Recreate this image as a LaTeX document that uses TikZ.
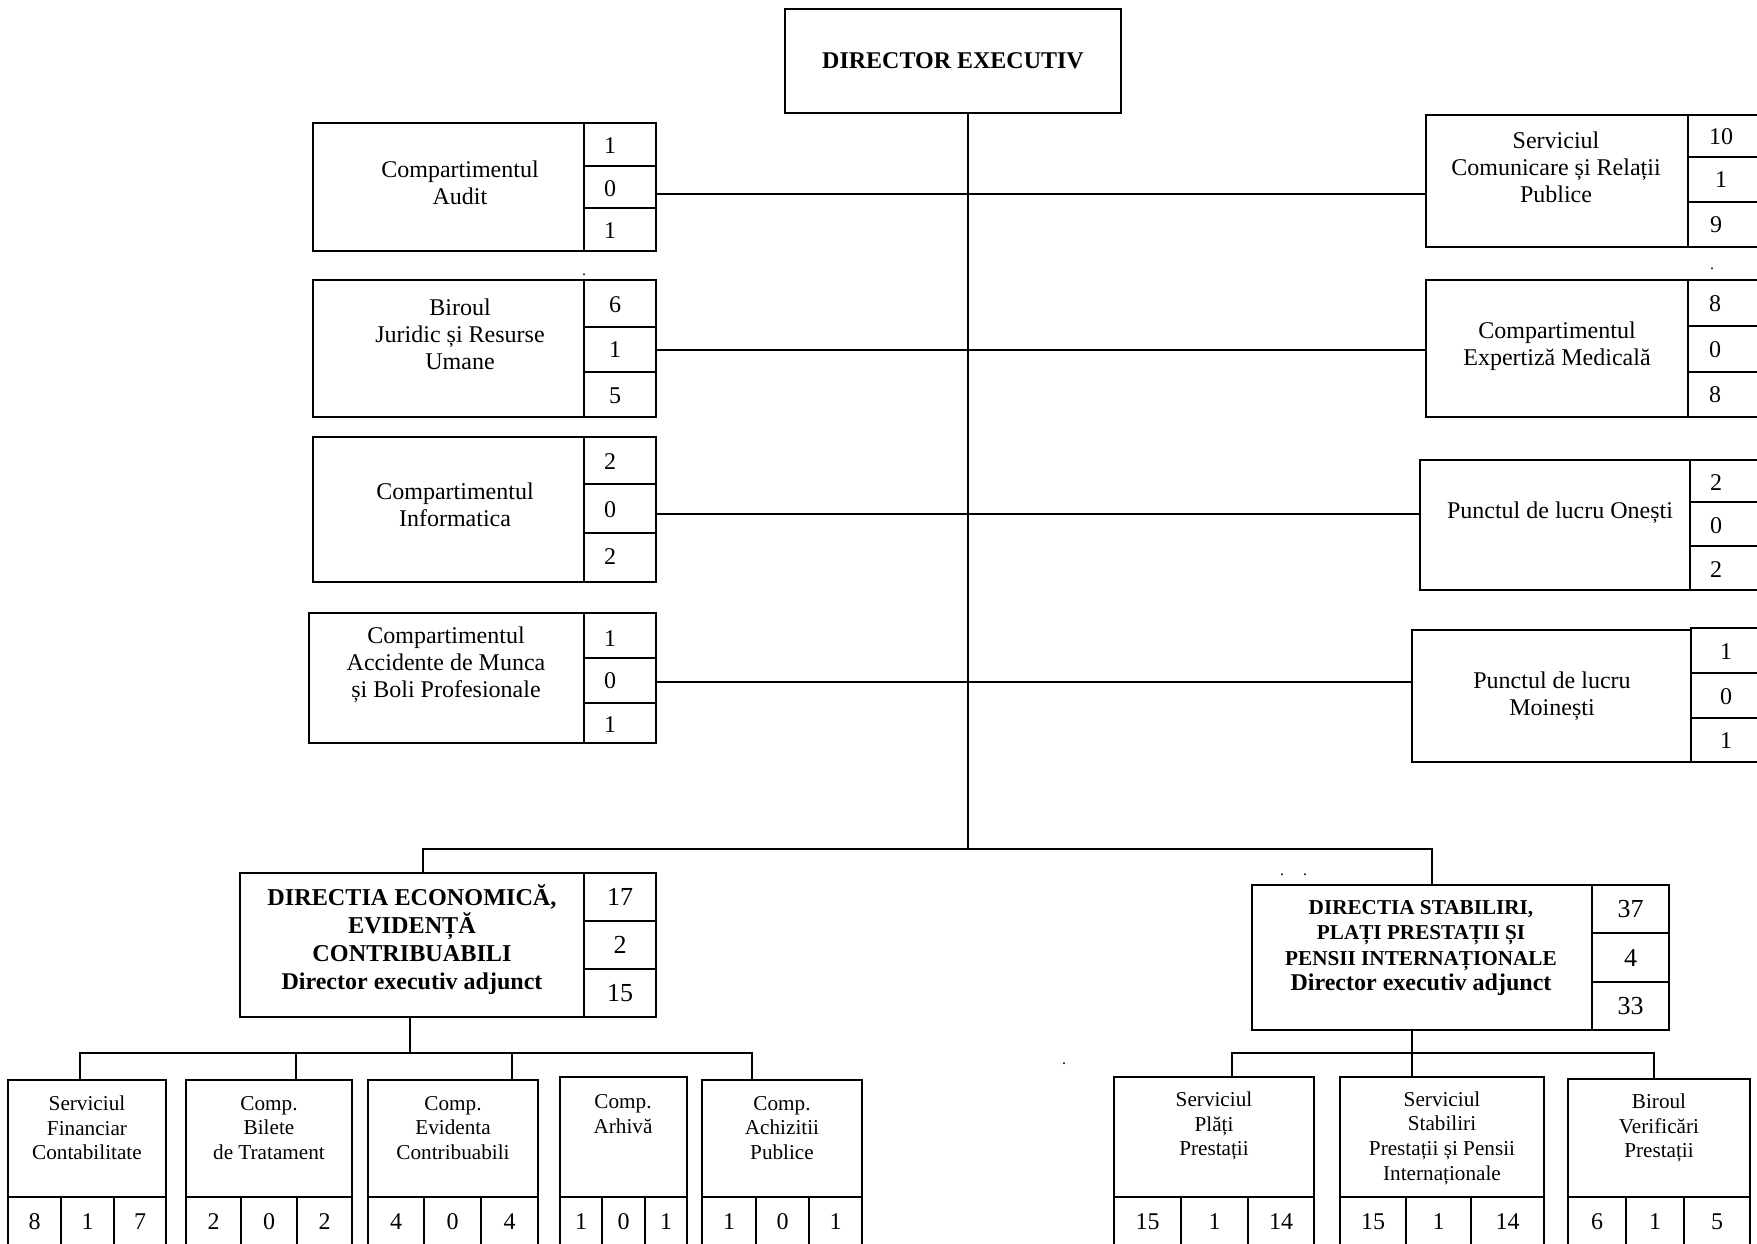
\documentclass[tikz,border=0pt]{standalone}
\usepackage{fontspec}
\setmainfont{Liberation Serif}
\newcommand\rb[5]{\node[boxst, anchor=north west, minimum width={(#4-#2)*0.5pt}, minimum height={(#5-#3)*0.5pt}] (#1) at (#2,#3) {};}
\newcommand\rbt[7]{\node[boxst, anchor=north west, minimum width={(#4-#2)*0.5pt}, minimum height={(#5-#3)*0.5pt}, #7] (#1) at (#2,#3) {#6};}
\begin{document}
\begin{tikzpicture}[x=0.5pt,y=-0.5pt,
  boxst/.style={draw,line width=0.9pt,inner sep=0pt,outer sep=0pt},
  conn/.style={line width=0.9pt},
  lbl/.style={align=center,inner sep=0pt,font=\fontsize{12}{13.5}\selectfont},
  blbl/.style={align=center,inner sep=0pt,font=\fontsize{10.6}{12.3}\selectfont},
  num/.style={inner sep=0pt,font=\fontsize{12}{13.5}\selectfont},
  bnum/.style={font=\fontsize{12}{14}\selectfont},
  dnum/.style={font=\fontsize{13}{15}\selectfont},
  dotst/.style={inner sep=0pt,font=\fontsize{8}{9}\selectfont,anchor=base}]
\useasboundingbox (0,0) rectangle (1757,1243);
\clip (0,0) rectangle (1757,1243);

% Director
\rbt{D}{785}{9}{1121}{113}{DIRECTOR EXECUTIV}{font=\fontsize{12}{13}\selectfont\bfseries}

% Left boxes
\rb{au}{313}{123}{584}{251}
\node[lbl] (aut) at (460,183) {Compartimentul\\Audit};
\rb{au1}{584}{123}{656}{166}
\rb{au2}{584}{166}{656}{208}
\rb{au3}{584}{208}{656}{251}
\node[num] (au1t) at (610,146) {1};
\node[num] (au2t) at (610,189) {0};
\node[num] (au3t) at (610,231) {1};

\rb{ju}{313}{280}{584}{417}
\node[lbl] (jut) at (460,334) {Biroul\\Juridic și Resurse\\Umane};
\rb{ju1}{584}{280}{656}{327}
\rb{ju2}{584}{327}{656}{372}
\rb{ju3}{584}{372}{656}{417}
\node[num] (ju1t) at (615,305) {6};
\node[num] (ju2t) at (615,350) {1};
\node[num] (ju3t) at (615,396) {5};

\rb{inf}{313}{437}{584}{582}
\node[lbl] (inft) at (455,505) {Compartimentul\\Informatica};
\rb{inf1}{584}{437}{656}{484}
\rb{inf2}{584}{484}{656}{533}
\rb{inf3}{584}{533}{656}{582}
\node[num] (inf1t) at (610,462) {2};
\node[num] (inf2t) at (610,510) {0};
\node[num] (inf3t) at (610,557) {2};

\rb{acc}{309}{613}{584}{743}
\node[lbl] (acct) at (446,665) {Compartimentul\\Accidente de Munca\\și Boli Profesionale};
\rb{acc1}{584}{613}{656}{658}
\rb{acc2}{584}{658}{656}{703}
\rb{acc3}{584}{703}{656}{743}
\node[num] (acc1t) at (610,639) {1};
\node[num] (acc2t) at (610,681) {0};
\node[num] (acc3t) at (610,725) {1};

% Right boxes
\rb{com}{1426}{115}{1688}{247}
\node[lbl] (comt) at (1556,167) {Serviciul\\Comunicare și Relații\\Publice};
\rb{com1}{1688}{115}{1775}{157}
\rb{com2}{1688}{157}{1775}{202}
\rb{com3}{1688}{202}{1775}{247}
\node[num] (com1t) at (1721,137) {10};
\node[num] (com2t) at (1721,180) {1};
\node[num] (com3t) at (1716,225) {9};

\rb{exp}{1426}{280}{1688}{417}
\node[lbl] (expt) at (1557,346) {Compartimentul\\Expertiză Medicală};
\rb{exp1}{1688}{280}{1775}{326}
\rb{exp2}{1688}{326}{1775}{372}
\rb{exp3}{1688}{372}{1775}{417}
\node[num] (exp1t) at (1715,304) {8};
\node[num] (exp2t) at (1715,350) {0};
\node[num] (exp3t) at (1715,395) {8};

\rb{one}{1420}{460}{1690}{590}
\node[lbl] (onet) at (1560,513) {Punctul de lucru Onești};
\rb{one1}{1690}{460}{1775}{502}
\rb{one2}{1690}{502}{1775}{546}
\rb{one3}{1690}{546}{1775}{590}
\node[num] (one1t) at (1716,483) {2};
\node[num] (one2t) at (1716,526) {0};
\node[num] (one3t) at (1716,570) {2};

\rb{moi}{1412}{630}{1691}{762}
\node[lbl] (moit) at (1552,696) {Punctul de lucru\\Moinești};
\rb{moi1}{1691}{628}{1775}{673}
\rb{moi2}{1691}{673}{1775}{718}
\rb{moi3}{1691}{718}{1775}{762}
\node[num] (moi1t) at (1726,652) {1};
\node[num] (moi2t) at (1726,697) {0};
\node[num] (moi3t) at (1726,741) {1};

% Directii
\rb{DE}{240}{873}{584}{1017}
\node[align=center,inner sep=0pt,font=\fontsize{12.1}{14}\selectfont\bfseries] (DEt) at (412,940)
  {DIRECTIA ECONOMICĂ,\\EVIDENȚĂ\\CONTRIBUABILI\\{\fontsize{12}{14}\selectfont Director executiv adjunct}};
\rbt{DE1}{584}{873}{656}{921}{17}{dnum}
\rbt{DE2}{584}{921}{656}{969}{2}{dnum}
\rbt{DE3}{584}{969}{656}{1017}{15}{dnum}

\rb{DS}{1252}{885}{1592}{1030}
\node[align=center,inner sep=0pt,font=\fontsize{10.6}{12.6}\selectfont\bfseries] (DSt) at (1421,948)
  {DIRECTIA STABILIRI,\\PLAȚI PRESTAȚII ȘI\\PENSII INTERNAȚIONALE\\{\fontsize{12}{12.6}\selectfont Director executiv adjunct}};
\rbt{DS1}{1592}{885}{1669}{933}{37}{dnum}
\rbt{DS2}{1592}{933}{1669}{982}{4}{dnum}
\rbt{DS3}{1592}{982}{1669}{1030}{33}{dnum}

% Bottom-left boxes
\rb{sf}{8}{1080}{166}{1197}
\node[blbl] (sft) at (87,1128) {Serviciul\\Financiar\\Contabilitate};
\rbt{sf1}{8}{1197}{61}{1246}{8}{bnum}
\rbt{sf2}{61}{1197}{114}{1246}{1}{bnum}
\rbt{sf3}{114}{1197}{166}{1246}{7}{bnum}

\rb{bt}{186}{1080}{352}{1197}
\node[blbl] (btt) at (269,1128) {Comp.\\Bilete\\de Tratament};
\rbt{bt1}{186}{1197}{241}{1246}{2}{bnum}
\rbt{bt2}{241}{1197}{297}{1246}{0}{bnum}
\rbt{bt3}{297}{1197}{352}{1246}{2}{bnum}

\rb{ec}{368}{1080}{538}{1197}
\node[blbl] (ect) at (453,1128) {Comp.\\Evidenta\\Contribuabili};
\rbt{ec1}{368}{1197}{424}{1246}{4}{bnum}
\rbt{ec2}{424}{1197}{481}{1246}{0}{bnum}
\rbt{ec3}{481}{1197}{538}{1246}{4}{bnum}

\rb{ar}{560}{1077}{687}{1197}
\node[blbl] (art) at (623,1114) {Comp.\\Arhivă};
\rbt{ar1}{560}{1197}{602}{1246}{1}{bnum}
\rbt{ar2}{602}{1197}{645}{1246}{0}{bnum}
\rbt{ar3}{645}{1197}{687}{1246}{1}{bnum}

\rb{ah}{702}{1080}{862}{1197}
\node[blbl] (aht) at (782,1128) {Comp.\\Achizitii\\Publice};
\rbt{ah1}{702}{1197}{756}{1246}{1}{bnum}
\rbt{ah2}{756}{1197}{809}{1246}{0}{bnum}
\rbt{ah3}{809}{1197}{862}{1246}{1}{bnum}

% Bottom-right boxes
\rb{pp}{1114}{1077}{1314}{1197}
\node[blbl] (ppt) at (1214,1126) {Serviciul\\Plăți\\Prestații};
\rbt{pp1}{1114}{1197}{1181}{1246}{15}{bnum}
\rbt{pp2}{1181}{1197}{1248}{1246}{1}{bnum}
\rbt{pp3}{1248}{1197}{1314}{1246}{14}{bnum}

\rb{sp}{1340}{1077}{1544}{1197}
\node[blbl] (spt) at (1442,1138) {Serviciul\\Stabiliri\\Prestații și Pensii\\Internaționale};
\rbt{sp1}{1340}{1197}{1406}{1246}{15}{bnum}
\rbt{sp2}{1406}{1197}{1471}{1246}{1}{bnum}
\rbt{sp3}{1471}{1197}{1544}{1246}{14}{bnum}

\rb{vp}{1568}{1079}{1750}{1197}
\node[blbl] (vpt) at (1659,1128) {Biroul\\Verificări\\Prestații};
\rbt{vp1}{1568}{1197}{1626}{1246}{6}{bnum}
\rbt{vp2}{1626}{1197}{1684}{1246}{1}{bnum}
\rbt{vp3}{1684}{1197}{1750}{1246}{5}{bnum}

% Connectors
\coordinate (T1) at (968,849);
\draw[conn] (D.south -| T1) -- (T1);
\coordinate (j1) at (968,194);
\coordinate (j2) at (968,350);
\coordinate (j3) at (968,514);
\coordinate (j4) at (968,682);
\draw[conn] (au2.east |- j1) -- (j1) -- (j1 -| com.west);
\draw[conn] (ju2.east |- j2) -- (j2) -- (j2 -| exp.west);
\draw[conn] (inf2.east |- j3) -- (j3) -- (j3 -| one.west);
\draw[conn] (acc2.east |- j4) -- (j4) -- (j4 -| moi.west);

\coordinate (hL) at (423,849);
\coordinate (hR) at (1432,849);
\draw[conn] (hL |- DE.north) -- (hL) -- (hR) -- (hR |- DS.north);

\coordinate (bl) at (410,1053);
\coordinate (bh1) at (80,1053);
\coordinate (bh2) at (296,1053);
\coordinate (bh3) at (512,1053);
\coordinate (bh5) at (752,1053);
\draw[conn] (bl |- DE.south) -- (bl);
\draw[conn] (bh1 |- sf.north) -- (bh1) -- (bh5) -- (bh5 |- ah.north);
\draw[conn] (bh2) -- (bh2 |- bt.north);
\draw[conn] (bh3) -- (bh3 |- ec.north);

\coordinate (br) at (1412,1053);
\coordinate (brl) at (1232,1053);
\coordinate (brr) at (1654,1053);
\draw[conn] (br |- DS.south) -- (br |- sp.north);
\draw[conn] (brl |- pp.north) -- (brl) -- (brr) -- (brr |- vp.north);

% stray dots
\node[dotst] (d1) at (584,275) {.};
\node[dotst] (d2) at (1712,269) {.};
\node[dotst] (d3) at (1282,875) {.};
\node[dotst] (d4) at (1305,875) {.};
\node[dotst] (d5) at (1064,1064) {.};
\end{tikzpicture}
\end{document}
